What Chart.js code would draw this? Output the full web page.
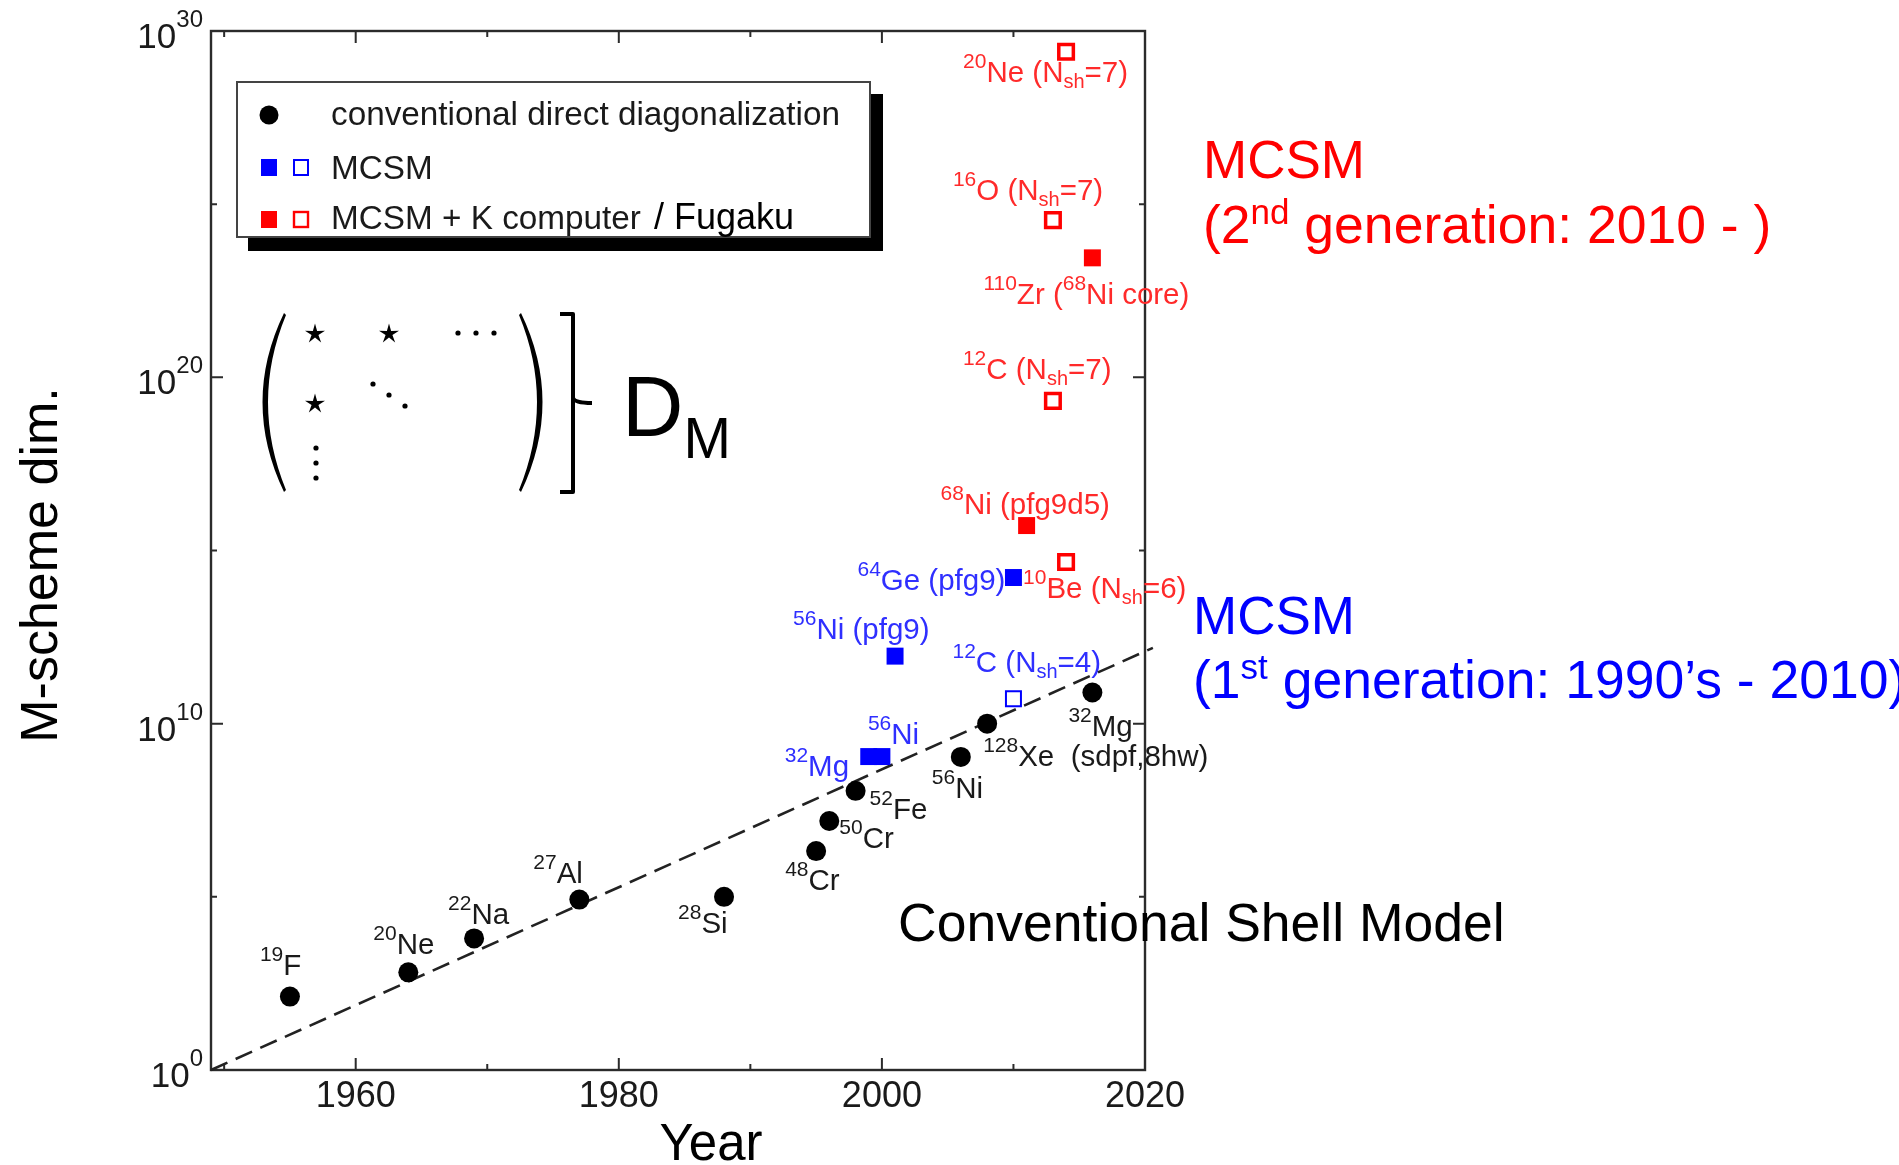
<!DOCTYPE html>
<html>
<head>
<meta charset="utf-8">
<title>M-scheme dimension vs year</title>
<script src="https://cdn.jsdelivr.net/npm/chart.js@4.4.1/dist/chart.umd.min.js"></script>
<style>
  html, body { margin: 0; padding: 0; background: #fff; }
</style>
</head>
<body>
<canvas id="graf" width="1899" height="1165"></canvas>
<script>
// values: year, log10 of the M-scheme dimension
const convNames = ['^{19}F', '^{20}Ne', '^{22}Na', '^{27}Al', '^{28}Si', '^{48}Cr', '^{50}Cr', '^{52}Fe', '^{56}Ni', '^{128}Xe  (sdpf,8hw)', '^{32}Mg'];
const convYears = [1955, 1964, 1969, 1977, 1988, 1995, 1996, 1998, 2006, 2008, 2016];
const convExp = [2.12, 2.82, 3.8, 4.92, 5.0, 6.32, 7.19, 8.06, 9.04, 10.0, 10.9];

const mcsmNames = ['^{32}Mg', '^{56}Ni', '^{56}Ni (pfg9)', '^{64}Ge (pfg9)'];
const mcsmYears = [1999, 2000, 2001, 2010];
const mcsmExp = [9.05, 9.05, 11.95, 14.22];

const mcsmOpenNames = ['^{12}C (N_{sh}=4)'];
const mcsmOpenYears = [2010];
const mcsmOpenExp = [10.72];

const kNames = ['^{68}Ni (pfg9d5)', '^{110}Zr (^{68}Ni core)'];
const kYears = [2011, 2016];
const kExp = [15.72, 23.45];

const kOpenNames = ['^{10}Be (N_{sh}=6)', '^{12}C (N_{sh}=7)', '^{16}O (N_{sh}=7)', '^{20}Ne (N_{sh}=7)'];
const kOpenYears = [2014, 2013, 2013, 2014];
const kOpenExp = [14.67, 19.32, 24.54, 29.4];

const trendYears = [1949, 2020.6];
const trendExp = [0, 12.19];

const yearTicks = [1950, 1960, 1970, 1980, 1990, 2000, 2010, 2020];
const yearLabels = ['', '1960', '', '1980', '', '2000', '', '2020'];
const dimTickExp = [0, 5, 10, 15, 20, 25, 30];
const dimTickLabels = ['0', '', '10', '', '20', '', '30'];

// where each point label sits, relative to its point (left edge, baseline)
const labelOffsets = [
  [[-30, -22], [-35, -18], [-26, -14], [-46, -17], [-46, 36], [-31, 39], [10, 27], [14, 28], [-29, 41], [-4, 42], [-24, 44]],
  [[-84, 19], [-14, -13], [-102, -17], [-156, 12]],
  [[-61, -27]],
  [[-86, -12], [-109, 46]],
  [[-43, 36], [-90, -22], [-100, -20], [-103, 30]]
];
const labelColors = ['#1a1a1a', '#2f2fff', '#2f2fff', '#ff2a2a', '#ff2a2a'];

const FONT = '"Liberation Sans", Arial, Helvetica, sans-serif';

function pts(years, exps) {
  return years.map((yr, i) => ({x: yr, y: Math.pow(10, exps[i])}));
}

function parseRich(s) {
  const parts = [];
  const re = /\^\{([^}]*)\}|_\{([^}]*)\}|([^^_]+)/g;
  let m;
  while ((m = re.exec(s))) {
    if (m[1] !== undefined) parts.push({t: m[1], k: 'sup'});
    else if (m[2] !== undefined) parts.push({t: m[2], k: 'sub'});
    else parts.push({t: m[3], k: ''});
  }
  return parts;
}

function drawRich(ctx, s, x, y, size, color, o) {
  ctx.fillStyle = color;
  ctx.textAlign = 'left';
  ctx.textBaseline = 'alphabetic';
  parseRich(s).forEach(p => {
    const fs = p.k === 'sup' ? o.sup : p.k === 'sub' ? o.sub : size;
    ctx.font = fs + 'px ' + FONT;
    const yy = p.k === 'sup' ? y - o.rise : p.k === 'sub' ? y + o.drop : y;
    ctx.fillText(p.t, x, yy);
    x += ctx.measureText(p.t).width;
  });
  return x;
}

function richWidth(ctx, s, size, o) {
  let w = 0;
  parseRich(s).forEach(p => {
    const fs = p.k === 'sup' ? o.sup : p.k === 'sub' ? o.sub : size;
    ctx.font = fs + 'px ' + FONT;
    w += ctx.measureText(p.t).width;
  });
  return w;
}

function star(ctx, cx, cy, R, r) {
  ctx.beginPath();
  for (let k = 0; k < 10; k++) {
    const ang = -Math.PI / 2 + k * Math.PI / 5;
    const rr = k % 2 ? r : R;
    const px = cx + rr * Math.cos(ang), py = cy + rr * Math.sin(ang);
    if (k) ctx.lineTo(px, py); else ctx.moveTo(px, py);
  }
  ctx.closePath();
  ctx.fill();
}

function dot(ctx, x, y) {
  ctx.beginPath();
  ctx.arc(x, y, 2.6, 0, Math.PI * 2);
  ctx.fill();
}

const decor = {
  id: 'decor',
  beforeDatasetsDraw(chart) {
    const {ctx, chartArea: a, scales: {x, y}} = chart;
    ctx.save();
    // frame
    ctx.strokeStyle = '#2b2b2b';
    ctx.lineWidth = 2.4;
    ctx.strokeRect(a.left, a.top, a.right - a.left, a.bottom - a.top);
    // inward ticks on all four sides
    ctx.lineWidth = 2;
    ctx.beginPath();
    yearTicks.forEach((v, i) => {
      const px = x.getPixelForValue(v), len = yearLabels[i] ? 12 : 6;
      ctx.moveTo(px, a.bottom); ctx.lineTo(px, a.bottom - len);
      ctx.moveTo(px, a.top); ctx.lineTo(px, a.top + len);
    });
    dimTickExp.forEach((e, i) => {
      const py = y.getPixelForValue(Math.pow(10, e)), len = dimTickLabels[i] ? 12 : 6;
      ctx.moveTo(a.left, py); ctx.lineTo(a.left + len, py);
      ctx.moveTo(a.right, py); ctx.lineTo(a.right - len, py);
    });
    ctx.stroke();
    // y tick labels 10^n
    const yo = {sup: 24, sub: 24, rise: 21, drop: 0};
    dimTickExp.forEach((e, i) => {
      if (!dimTickLabels[i]) return;
      const py = y.getPixelForValue(Math.pow(10, e));
      const s = '10^{' + dimTickLabels[i] + '}';
      const w = richWidth(ctx, s, 35, yo);
      drawRich(ctx, s, a.left - 8 - w, py + 17, 35, '#1a1a1a', yo);
    });
    // point labels
    const lo = {sup: 21, sub: 20, rise: 14, drop: 6};
    const names = [convNames, mcsmNames, mcsmOpenNames, kNames, kOpenNames];
    names.forEach((list, di) => {
      const meta = chart.getDatasetMeta(di);
      list.forEach((s, i) => {
        const el = meta.data[i];
        const [dx, dy] = labelOffsets[di][i];
        drawRich(ctx, s, el.x + dx, el.y + dy, 29.5, labelColors[di], lo);
      });
    });
    ctx.restore();
  },
  afterDatasetsDraw(chart) {
    const {ctx} = chart;
    ctx.save();
    // legend with drop shadow
    ctx.fillStyle = '#000';
    ctx.fillRect(248, 94, 635, 157);
    ctx.fillStyle = '#fff';
    ctx.fillRect(237, 82, 633, 155);
    ctx.strokeStyle = '#444';
    ctx.lineWidth = 2;
    ctx.strokeRect(237, 82, 633, 155);
    ctx.fillStyle = '#000';
    ctx.beginPath(); ctx.arc(269, 115, 9.5, 0, Math.PI * 2); ctx.fill();
    ctx.fillStyle = '#0000ff'; ctx.fillRect(261, 159, 16, 17);
    ctx.strokeStyle = '#0000ff'; ctx.lineWidth = 2; ctx.strokeRect(294, 160, 14, 15);
    ctx.fillStyle = '#ff0000'; ctx.fillRect(261, 211, 16, 17);
    ctx.strokeStyle = '#ff0000'; ctx.lineWidth = 2.4; ctx.strokeRect(294, 212, 14, 15);
    ctx.fillStyle = '#1a1a1a';
    ctx.font = '33.3px ' + FONT;
    ctx.textAlign = 'left';
    ctx.textBaseline = 'alphabetic';
    ctx.fillText('conventional direct diagonalization', 331, 125);
    ctx.fillText('MCSM', 331, 179);
    ctx.fillText('MCSM + K computer', 331, 229);
    ctx.fillStyle = '#000';
    ctx.font = '36px ' + FONT;
    ctx.fillText('/ Fugaku', 654, 229);

    // matrix sketch
    ctx.fillStyle = '#000';
    ctx.beginPath();
    ctx.moveTo(284, 313); ctx.quadraticCurveTo(241, 402, 284, 492);
    ctx.lineTo(286, 490); ctx.quadraticCurveTo(250, 402, 286, 315);
    ctx.closePath(); ctx.fill();
    ctx.beginPath();
    ctx.moveTo(521, 313); ctx.quadraticCurveTo(564, 402, 521, 492);
    ctx.lineTo(519, 490); ctx.quadraticCurveTo(555, 402, 519, 315);
    ctx.closePath(); ctx.fill();
    star(ctx, 315, 334, 10.5, 3.6);
    star(ctx, 389, 334, 10.5, 3.6);
    star(ctx, 315, 404, 10.5, 3.6);
    [[458, 333], [476, 333], [494, 333], [373, 384], [389, 395], [405, 406], [316, 448], [316, 463], [316, 478]]
      .forEach(p => dot(ctx, p[0], p[1]));
    // brace
    ctx.strokeStyle = '#000';
    ctx.lineWidth = 4;
    ctx.lineJoin = 'round';
    ctx.beginPath();
    ctx.moveTo(560, 314); ctx.lineTo(573, 314); ctx.lineTo(573, 492); ctx.lineTo(560, 492);
    ctx.moveTo(573, 398); ctx.quadraticCurveTo(575, 403, 592, 403);
    ctx.stroke();
    drawRich(ctx, 'D_{M}', 622, 436, 85, '#000', {sup: 57, sub: 57, rise: 0, drop: 22});

    // side annotations
    const bo = {sup: 35, sub: 35, rise: 19, drop: 0};
    drawRich(ctx, 'MCSM', 1203, 178, 53, '#ff0000', bo);
    drawRich(ctx, '(2^{nd} generation: 2010 - )', 1203, 243, 53.5, '#ff0000', bo);
    drawRich(ctx, 'MCSM', 1193, 634, 53, '#0000ff', bo);
    drawRich(ctx, '(1^{st} generation: 1990\u2019s - 2010)', 1193, 698, 53.5, '#0000ff', bo);
    drawRich(ctx, 'Conventional Shell Model', 898, 941, 53.5, '#000', bo);

    // axis titles
    ctx.fillStyle = '#000';
    ctx.font = '51px ' + FONT;
    ctx.textAlign = 'center';
    ctx.fillText('Year', 711, 1160);
    ctx.translate(57, 565);
    ctx.rotate(-Math.PI / 2);
    ctx.font = '52px ' + FONT;
    ctx.fillText('M-scheme dim.', 0, 0);
    ctx.restore();
  }
};

const chart = new Chart(document.getElementById('graf').getContext('2d'), {
  type: 'scatter',
  data: {
    datasets: [
      {
        label: 'conventional direct diagonalization',
        data: pts(convYears, convExp),
        pointStyle: 'circle',
        pointRadius: 10,
        backgroundColor: '#000',
        borderColor: '#000',
        borderWidth: 0
      },
      {
        label: 'MCSM',
        data: pts(mcsmYears, mcsmExp),
        pointStyle: 'rect',
        pointRadius: 12,
        backgroundColor: '#0000ff',
        borderWidth: 0
      },
      {
        label: 'MCSM (open)',
        data: pts(mcsmOpenYears, mcsmOpenExp),
        pointStyle: 'rect',
        pointRadius: 10.6,
        backgroundColor: '#fff',
        borderColor: '#0000ff',
        borderWidth: 2
      },
      {
        label: 'MCSM + K computer / Fugaku',
        data: pts(kYears, kExp),
        pointStyle: 'rect',
        pointRadius: 12,
        backgroundColor: '#ff0000',
        borderWidth: 0
      },
      {
        label: 'MCSM + K computer / Fugaku (open)',
        data: pts(kOpenYears, kOpenExp),
        pointStyle: 'rect',
        pointRadius: 10.3,
        backgroundColor: '#fff',
        borderColor: '#ff0000',
        borderWidth: 3.5
      },
      {
        label: 'trend',
        data: pts(trendYears, trendExp),
        showLine: true,
        borderColor: '#222',
        borderWidth: 2.6,
        borderDash: [18, 9],
        pointRadius: 0,
        clip: false
      }
    ]
  },
  options: {
    responsive: false,
    animation: false,
    events: [],
    layout: {padding: {left: 211, top: 31, right: 754, bottom: 41.8}},
    plugins: {legend: {display: false}, tooltip: {enabled: false}},
    scales: {
      x: {
        type: 'linear',
        min: 1949,
        max: 2020,
        afterBuildTicks: axis => { axis.ticks = yearTicks.map(v => ({value: v})); },
        grid: {display: false, drawTicks: false},
        border: {display: false},
        ticks: {
          autoSkip: false,
          maxRotation: 0,
          padding: 5,
          color: '#1a1a1a',
          font: {size: 36, family: FONT},
          callback: v => yearLabels[yearTicks.indexOf(v)]
        }
      },
      y: {
        type: 'logarithmic',
        display: false,
        min: 1,
        max: 1e30
      }
    }
  },
  plugins: [decor]
});
</script>
</body>
</html>
